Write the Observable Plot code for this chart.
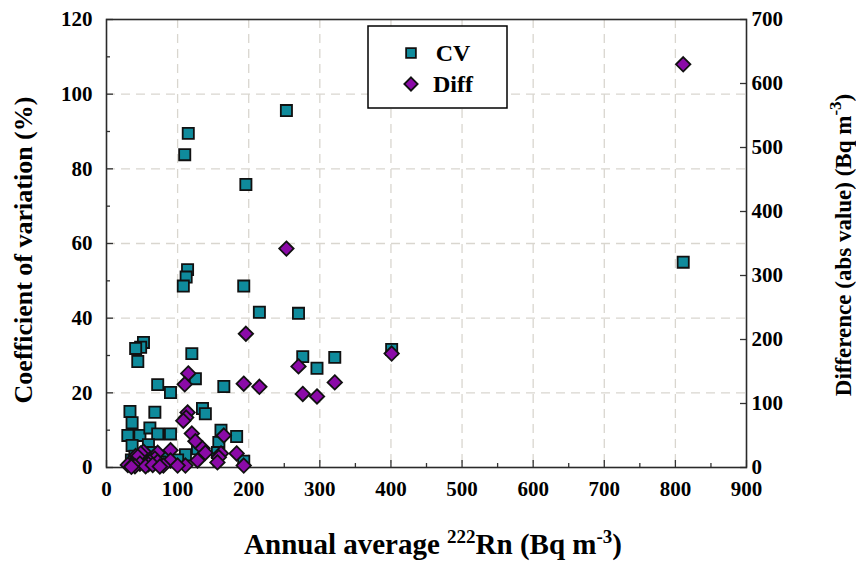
<!DOCTYPE html>
<html><head><meta charset="utf-8">
<script src="https://cdn.jsdelivr.net/npm/d3@7"></script>
<script src="https://cdn.jsdelivr.net/npm/@observablehq/plot@0.6"></script>
<style>
body{margin:0;background:#fff;}
#wrap{position:relative;width:856px;height:561px;}
</style></head><body><div id="wrap"></div>
<script>
// Annual average 222Rn (Bq m-3) per site
const rn   = [811, 253, 196, 215, 270, 276, 296, 321, 401, 193, 115, 110, 114, 112, 108, 52, 48, 41, 44, 120, 125, 72, 90, 165, 33, 36, 68, 135, 139, 30, 47, 61, 72, 90, 161, 158, 183, 36, 59, 111, 193, 128, 40, 55, 65, 80, 100, 156, 75, 35];
// Coefficient of variation (%)
const cv   = [55, 95.6, 75.8, 41.6, 41.3, 29.7, 26.6, 29.5, 31.6, 48.6, 89.5, 83.8, 53, 51, 48.6, 33.5, 32.2, 31.9, 28.4, 30.5, 23.8, 22.2, 20.1, 21.7, 15, 12, 14.8, 15.8, 14.4, 8.6, 8.6, 10.6, 9, 9, 10, 6.7, 8.3, 5.9, 6.1, 3.4, 1.7, 5, 3, 2, 4, 3, 2, 4, 1.5, 2];
// Difference (abs value) (Bq m-3)
const diff = [630, 342, 209, 126, 158, 115, 111, 133, 178, 131, 147, 130, 86, 78, 73, 25, 22, 18, 17, 53, 41, 23, 27, 50, 7, 6, 14, 30, 23, 4, 6, 9, 9, 11, 22, 16, 22, 3, 5, 3, 3, 11, 2, 2, 4, 3, 3, 8, 1.5, 1];

const xTicks = [0, 100, 200, 300, 400, 500, 600, 700, 800, 900];
const xMinor = [50, 150, 250, 350, 450, 550, 650, 750, 850];
const yTicks = [0, 20, 40, 60, 80, 100, 120];
const yMinor = [10, 30, 50, 70, 90, 110];
const y2Ticks = [0, 100, 200, 300, 400, 500, 600, 700];
const seriesNames = ["CV", "Diff"];
const seriesColors = ["#0f8b9c", "#8b0aa8"];

const CV_MAX = 120, DIFF_MAX = 700;
const k = CV_MAX / DIFF_MAX;
const data = rn.map((x, i) => ({x, cv: cv[i], diff: diff[i]}));
const font = "'Liberation Serif', 'Times New Roman', serif";

const chart = Plot.plot({
  width: 856, height: 561,
  marginLeft: 106, marginRight: 110, marginTop: 19, marginBottom: 94,
  style: {fontFamily: font, fontSize: "21px", fontWeight: "bold", color: "#000", background: "#fff", overflow: "visible"},
  x: {domain: [0, 900]},
  y: {domain: [0, 120]},
  marks: [
    Plot.gridX(xTicks.slice(1, -1), {stroke: "#d9d6cf", strokeOpacity: 1, strokeDasharray: "9,6", strokeWidth: 1.3}),
    Plot.gridY(yTicks.slice(1, -1), {stroke: "#d9d6cf", strokeOpacity: 1, strokeDasharray: "9,6", strokeWidth: 1.3}),
    Plot.axisX(xTicks, {tickSize: -7, tickPadding: 21, label: null, fontSize: 21, fontWeight: "bold", stroke: "#333", strokeWidth: 1.3}),
    Plot.axisX(xMinor, {tickSize: -4, tickFormat: () => "", label: null, stroke: "#333", strokeWidth: 1.3}),
    Plot.axisY(yTicks, {tickSize: -7, tickPadding: 21, label: null, fontSize: 21, fontWeight: "bold", stroke: "#333", strokeWidth: 1.3}),
    Plot.axisY(yMinor, {tickSize: -4, tickFormat: () => "", label: null, stroke: "#333", strokeWidth: 1.3}),
    Plot.axisY(y2Ticks.map(v => v * k), {anchor: "right", tickSize: -7, tickPadding: 12, tickFormat: d => String(Math.round(d / k)), label: null, fontSize: 21, fontWeight: "bold", stroke: "#333", strokeWidth: 1.3}),
    Plot.frame({stroke: "#2a2a2a", strokeWidth: 1.6}),
    Plot.dot(data, {x: "x", y: "cv", symbol: "square", r: 6.3, fill: seriesColors[0], stroke: "#111", strokeWidth: 1.8}),
    Plot.dot(data, {x: "x", y: d => d.diff * k, symbol: "diamond2", r: 6.5, fill: seriesColors[1], stroke: "#111", strokeWidth: 1.8})
  ]
});

document.getElementById("wrap").appendChild(chart);

const svg = d3.select(chart);
// axis titles
svg.append("text")
  .attr("transform", "translate(32,250) rotate(-90)")
  .attr("text-anchor", "middle")
  .attr("font-family", font).attr("font-size", 26).attr("font-weight", "bold").attr("fill", "#000")
  .text("Coefficient of variation (%)");

const bt = svg.append("text")
  .attr("x", 433).attr("y", 554)
  .attr("text-anchor", "middle")
  .attr("font-family", font).attr("font-size", 29).attr("font-weight", "bold").attr("fill", "#000");
bt.append("tspan").text("Annual average ");
bt.append("tspan").attr("dy", -11).attr("font-size", 19).text("222");
bt.append("tspan").attr("dy", 11).text("Rn (Bq m");
bt.append("tspan").attr("dy", -11).attr("font-size", 19).text("-3");
bt.append("tspan").attr("dy", 11).text(")");

const rt = svg.append("text")
  .attr("transform", "translate(851,245) rotate(-90)")
  .attr("text-anchor", "middle")
  .attr("font-family", font).attr("font-size", 23).attr("font-weight", "bold").attr("fill", "#000");
rt.append("tspan").text("Difference (abs value) (Bq m");
rt.append("tspan").attr("dy", -10).attr("font-size", 17).text("-3");
rt.append("tspan").attr("dy", 10).text(")");

// legend
const lg = svg.append("g");
lg.append("rect").attr("x", 368).attr("y", 26).attr("width", 139).attr("height", 82)
  .attr("fill", "#fff").attr("stroke", "#000").attr("stroke-width", 1.5);
const sq = d3.symbol(d3.symbolSquare, Math.PI * 5.5 * 5.5)();
const dm = d3.symbol(d3.symbolDiamond2, Math.PI * 6 * 6)();
lg.append("path").attr("d", sq).attr("transform", "translate(411,53)")
  .attr("fill", seriesColors[0]).attr("stroke", "#111").attr("stroke-width", 1.8);
lg.append("path").attr("d", dm).attr("transform", "translate(411,84)")
  .attr("fill", seriesColors[1]).attr("stroke", "#111").attr("stroke-width", 1.8);
[[seriesNames[0], 53], [seriesNames[1], 84]].forEach(([name, y]) => {
  lg.append("text").attr("x", 453).attr("y", y).attr("dy", "0.35em")
    .attr("font-family", font).attr("font-size", 24).attr("font-weight", "bold").attr("fill", "#000")
    .text(name);
});
</script>
</body></html>
